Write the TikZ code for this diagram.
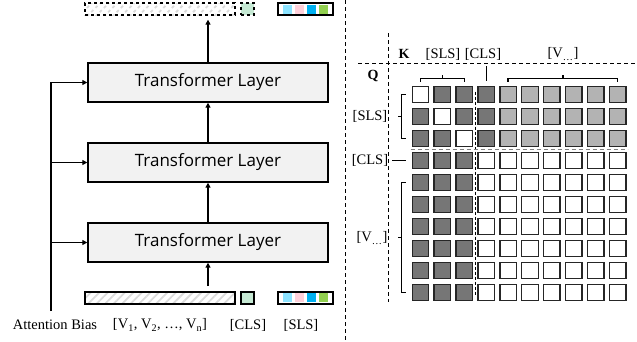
\documentclass[tikz,border=0pt]{standalone}
\usepackage{fontspec}
\setmainfont{Liberation Serif}
\newfontfamily\layerfont{Open Sans}
\usetikzlibrary{arrows.meta,patterns.meta,calc}

\definecolor{layerfill}{HTML}{F2F2F2}
\definecolor{clsgreen}{HTML}{C5E8D3}
\definecolor{slsa}{HTML}{8CE3FF}
\definecolor{slsb}{HTML}{FFD0DA}
\definecolor{slsc}{HTML}{00B0F0}
\definecolor{slsd}{HTML}{92D050}
\definecolor{darkcell}{HTML}{767676}
\definecolor{lightcell}{HTML}{B3B3B3}

\tikzset{
  layer/.style={draw,line width=1.4pt,fill=layerfill,minimum width=240pt,minimum height=39pt,
    font=\layerfont\fontsize{17}{20}\selectfont},
  arr/.style={line width=1.3pt,-{Triangle[length=5pt,width=5pt]}},
  seqbar/.style={draw,line width=1.3pt,pattern={Lines[angle=45,distance=6pt,line width=1.8pt]},
    pattern color=gray!28,minimum width=150pt,minimum height=12pt,inner sep=0pt},
  clsbox/.style={draw,line width=1.3pt,fill=clsgreen,minimum width=13pt,minimum height=12pt,inner sep=0pt},
  slsbar/.style={draw,line width=2pt,fill=white,minimum width=55pt,minimum height=12pt,inner sep=0pt},
  slssq/.style={minimum width=9pt,minimum height=9pt,inner sep=0pt},
  sep/.style={line width=1pt,dash pattern=on 4pt off 3pt},
  cell/.style={draw=black!85,line width=1.4pt,minimum size=16.5pt,inner sep=0pt},
  lab/.style={font=\fontsize{14.5}{17}\selectfont,inner sep=0pt},
  brace/.style={line width=1.3pt}
}

\begin{document}
\begin{tikzpicture}[x=1pt,y=-1pt]
  \useasboundingbox (0,0) rectangle (637,341);

  \node[layer] (l1) at (208,82.5) {Transformer Layer};
  \node[layer] (l2) at (208,162.5) {Transformer Layer};
  \node[layer] (l3) at (208,242.5) {Transformer Layer};

  \node[seqbar] (vin) at (160,298) {};
  \node[clsbox] (clsin) at (247.5,298) {};
  \node[slsbar] (slsin) at (305,297.5) {};
  \node[seqbar,dashed] (vout) at (160,9) {};
  \node[clsbox,dashed] (clsout) at (247.5,9) {};
  \node[slsbar] (slsout) at (305,9) {};
  \foreach \i/\col in {1/slsa,2/slsb,3/slsc,4/slsd}{
    \node[slssq,fill=\col] (slsin-\i) at ($(slsin.west)+({10.5+12.3*(\i-1)},0)$) {};
    \node[slssq,fill=\col] (slsout-\i) at ($(slsout.west)+({10.5+12.3*(\i-1)},0)$) {};
  }

  \node[lab] (bias) at (55,325) {Attention Bias};
  \node[lab] (vlab) at (160,325) {[V\textsubscript{1}, V\textsubscript{2}, …, V\textsubscript{n}]};
  \node[lab] (clslab) at (248,325) {[CLS]};
  \node[lab] (slslab) at (301,325) {[SLS]};

  \draw[arr,shorten <=5pt] (l3.south |- vin.north) -- (l3.south);
  \draw[arr] (l3.north) -- (l2.south);
  \draw[arr] (l2.north) -- (l1.south);
  \draw[arr,shorten >=4pt] (l1.north) -- (l1.north |- vout.south);

  \coordinate (biasfoot) at (51,311);
  \draw[arr] (biasfoot) |- (l1.west);
  \draw[arr] (biasfoot |- l2.west) -- (l2.west);
  \draw[arr] (biasfoot |- l3.west) -- (l3.west);

  \draw[sep] (345,0) -- (345,341);

  \foreach \r in {1,...,10}{
    \foreach \c in {1,...,10}{
      \def\cellfill{white}
      \ifnum\c<4 \ifnum\r=\c\else\def\cellfill{darkcell}\fi\fi
      \ifnum\r<4 \ifnum\c=4 \def\cellfill{darkcell}\fi\ifnum\c>4 \def\cellfill{lightcell}\fi\fi
      \node[cell,fill=\cellfill] (m-\r-\c) at ({420.5+21.9*(\c-1)},{94.5+22*(\r-1)}) {};
    }
  }

  \draw[sep] (388,33) -- (388,302);
  \draw[sep] (358,63) -- (637,63);
  \draw[line width=1pt,dash pattern=on 3pt off 2pt] ($(m-1-3.east)!0.5!(m-1-4.west)+(0,-3)$)
    -- ($(m-10-3.east)!0.5!(m-10-4.west)+(0,3)$);
  \draw[line width=1.6pt,gray,dash pattern=on 4pt off 3pt] ($(m-3-1.south west)!0.5!(m-4-1.north west)+(-1,0)$)
    -- ($(m-3-10.south east)!0.5!(m-4-10.north east)+(1,0)$);

  \node[lab,font=\fontsize{14}{16}\selectfont\bfseries] (klab) at (404,54) {K};
  \node[lab,font=\fontsize{14}{16}\selectfont\bfseries] (qlab) at (373,76) {Q};
  \node[lab] (kslslab) at (443,54) {[SLS]};
  \node[lab] (kclslab) at (483,54) {[CLS]};
  \node[lab] (kvlab) at (563,54) {[V\textsubscript{…}]};
  \node[lab] (qslslab) at (370,116) {[SLS]};
  \node[lab] (qclslab) at (370,160) {[CLS]};
  \node[lab] (qvlab) at (372,238) {[V\textsubscript{…}]};

  \draw[brace] ($(m-1-1.north)+(0,-4)$) -- ++(0,-3) -| ($(m-1-3.north)+(0,-4)$);
  \draw[brace] ($(m-1-2.north)+(0,-7)$) -- ++(0,-4);
  \draw[brace] ($(m-1-4.north)+(0,-5)$) -- ++(0,-15);
  \draw[brace] ($(m-1-5.north)+(0,-4)$) -- ++(0,-3) -| ($(m-1-10.north)+(0,-4)$);
  \draw[brace] ($(m-1-7.north)!0.5!(m-1-8.north)+(0,-7)$) -- ++(0,-4);

  \draw[brace] ($(m-1-1.west)+(-6,0)$) -- ++(-4,0) |- ($(m-3-1.west)+(-6,0)$);
  \draw[brace] ($(m-2-1.west)+(-10,0)$) -- ++(-4,0);
  \draw[brace] ($(m-4-1.west)+(-6,0)$) -- ++(-14,0);
  \draw[brace] ($(m-5-1.west)+(-6,0)$) -- ++(-4,0) |- ($(m-10-1.west)+(-6,0)$);
  \draw[brace] ($(m-7-1.west)!0.5!(m-8-1.west)+(-10,0)$) -- ++(-4,0);
\end{tikzpicture}
\end{document}
